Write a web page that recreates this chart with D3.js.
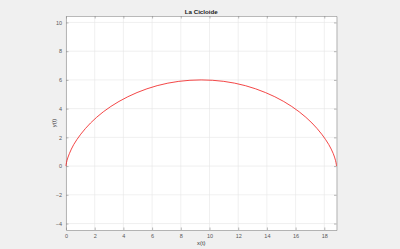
<!DOCTYPE html>
<html>
<head>
<meta charset="utf-8">
<script src="https://cdn.jsdelivr.net/npm/d3@7"></script>
<style>
	body { margin: 0; background: #f0f0f0; }
	svg { display: block; font-family: "Liberation Sans", Arial, sans-serif; }
	.grid line { stroke: #e6e6e6; stroke-width: 0.6; }
	.axis text { fill: #595959; font-size: 5.5px; }
	.axis line, .axis path { stroke: #8a8a8a; stroke-width: 0.6; }
</style>
</head>
<body>
<svg width="400" height="249"></svg>
<script>
// points of the curve (x(t), y(t))
var xs = [0, 0.01, 0.07, 0.24, 0.54, 1.03, 1.71, 2.60, 3.69, 4.95, 6.35, 7.86, 9.42,
	10.99, 12.50, 13.90, 15.17, 16.25, 17.14, 17.82, 18.31, 18.62, 18.78, 18.84, 18.85];
var ys = [0, 0.10, 0.40, 0.88, 1.50, 2.22, 3.00, 3.78, 4.50, 5.12, 5.60, 5.90, 6.00,
	5.90, 5.60, 5.12, 4.50, 3.78, 3.00, 2.22, 1.50, 0.88, 0.40, 0.10, 0];
var xTicks = [0, 2, 4, 6, 8, 10, 12, 14, 16, 18];
var yTicks = [-4, -2, 0, 2, 4, 6, 8, 10];
var xLimits = [0, 18.85];
var yLimits = [-4.45, 10.45];

var svg = d3.select("svg"),
	margin = {top: 16, right: 63.5, bottom: 19, left: 66},
	width = +svg.attr("width") - margin.left - margin.right,
	height = +svg.attr("height") - margin.top - margin.bottom,
	g = svg.append("g").attr("transform", "translate(" + margin.left + "," + margin.top + ")");

var x = d3.scaleLinear().domain(xLimits).range([0, width]);
var y = d3.scaleLinear().domain(yLimits).range([height, 0]);

g.append("rect")
	.attr("width", width)
	.attr("height", height)
	.attr("fill", "#fff");

// grid
g.append("g").attr("class", "grid")
	.selectAll("line").data(xTicks).enter().append("line")
	.attr("x1", function (d) { return x(d); })
	.attr("x2", function (d) { return x(d); })
	.attr("y1", 0).attr("y2", height);
g.append("g").attr("class", "grid")
	.selectAll("line").data(yTicks).enter().append("line")
	.attr("y1", function (d) { return y(d); })
	.attr("y2", function (d) { return y(d); })
	.attr("x1", 0).attr("x2", width);

// axes, ticks pointing inwards like matlab
g.append("g").attr("class", "axis")
	.attr("transform", "translate(0," + height + ")")
	.call(d3.axisBottom(x).tickValues(xTicks).tickSizeInner(-2.5).tickSizeOuter(0).tickPadding(4));
g.append("g").attr("class", "axis")
	.call(d3.axisTop(x).tickValues(xTicks).tickSizeInner(-2.5).tickSizeOuter(0).tickFormat(""));
g.append("g").attr("class", "axis")
	.call(d3.axisLeft(y).tickValues(yTicks).tickSizeInner(-2.5).tickSizeOuter(0).tickPadding(4));
g.append("g").attr("class", "axis")
	.attr("transform", "translate(" + width + ",0)")
	.call(d3.axisRight(y).tickValues(yTicks).tickSizeInner(-2.5).tickSizeOuter(0).tickFormat(""));

var pts = xs.map(function (d, i) { return [d, ys[i]]; });
var line = d3.line()
	.x(function (d) { return x(d[0]); })
	.y(function (d) { return y(d[1]); })
	.curve(d3.curveCatmullRom.alpha(0.5));

g.append("path")
	.datum(pts)
	.attr("fill", "none")
	.attr("stroke", "#f01818")
	.attr("stroke-width", 0.8)
	.attr("d", line);

// labels
svg.append("text")
	.attr("x", margin.left + width / 2)
	.attr("y", 13.5)
	.attr("text-anchor", "middle")
	.attr("font-size", "6.2px")
	.attr("font-weight", "bold")
	.attr("fill", "#202020")
	.text("La Cicloide");

svg.append("text")
	.attr("x", margin.left + width / 2)
	.attr("y", 245)
	.attr("text-anchor", "middle")
	.attr("font-size", "5.8px")
	.attr("fill", "#333")
	.text("x(t)");

svg.append("text")
	.attr("transform", "translate(56," + (margin.top + height / 2) + ") rotate(-90)")
	.attr("text-anchor", "middle")
	.attr("font-size", "5.8px")
	.attr("fill", "#333")
	.text("y(t)");
</script>
</body>
</html>
